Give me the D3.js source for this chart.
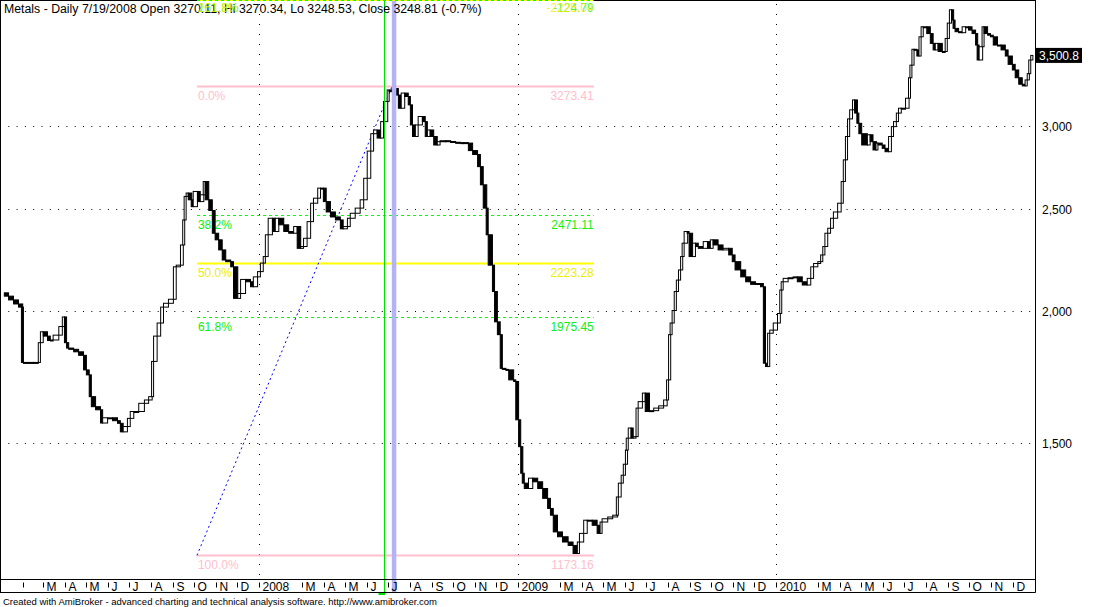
<!DOCTYPE html>
<html><head><meta charset="utf-8">
<script src="https://cdn.jsdelivr.net/npm/d3@7"></script>
<style>
body{margin:0;background:#fff}
svg{display:block}
text{font-family:"Liberation Sans",Arial,sans-serif}
</style>
</head><body>
<svg id="chart" width="1096" height="607"></svg>
<script>
// ---- data (days counted from 2007-01-01) ----
const days2007=[4,10,17,24,30,31,38,45,52,55,59,65,69,73,81,86,89,92,95,102,109,116,120,124,127,133,140,143,150,157,164,168,172,178,182,187,194,202,208,213,215,220,225,229,236,243,247,253,257,259,261,264,269,271,277,281,286,288,293,298,302,307,312,317,324,328,334,338,345,352,356,362,366,370];
const close2007=[2083,2068,2051,2033,2019,1789,1789,1789,1789,1868,1913,1895,1877,1879,1899,1935,1976,1868,1846,1841,1831,1817,1760,1741,1660,1624,1613,1567,1585,1585,1575,1566,1537,1555,1583,1607,1607,1636,1648,1660,1793,1895,1950,2019,2036,2054,2205,2213,2313,2443,2572,2591,2553,2515,2600,2543,2581,2657,2553,2494,2373,2339,2288,2238,2230,2205,2058,2080,2145,2134,2111,2157,2182,2223];
const days2008=[373,377,383,387,392,399,406,413,418,423,427,432,437,441,447,451,455,459,465,472,479,483,489,493,500,507,512,517,522,526,531,536,540,546,548,553,555,561,565,570,575,578,581,585,589,595,599,602,606,611,616,620,628,635,642,649,653,660,666,673,677,681,686,688,694,697,701,705,708,713,717,724,727];
const close2008=[2255,2365,2452,2382,2452,2417,2382,2373,2408,2296,2305,2347,2434,2534,2562,2619,2619,2543,2486,2459,2443,2396,2408,2452,2479,2507,2553,2676,2840,2950,2974,2922,3029,3166,3246,3234,3256,3210,3119,3224,3200,3142,3007,2932,3007,3063,3029,2932,2974,2932,2878,2899,2905,2900,2895,2890,2893,2890,2843,2819,2745,2638,2507,2365,2213,2089,1955,1901,1766,1762,1760,1722,1716];
const days2009=[731,734,737,739,745,751,758,765,772,776,780,786,793,801,808,814,817,823,828,835,842,847,849,857,864,871,872,876,879,882,885,886,890,893,897,900,906,910,916,922,929,936,941,943,946,948,951,954,957,960,963,965,970,972,977,981,985,992,998,1002,1006,1013,1020,1028,1033,1037,1045,1052,1059,1066,1073,1077,1080,1083,1086,1091];
const close2009=[1578,1488,1404,1374,1358,1389,1378,1358,1329,1300,1281,1235,1222,1208,1199,1178,1208,1231,1267,1267,1253,1231,1262,1271,1276,1281,1333,1374,1398,1432,1477,1516,1550,1516,1521,1619,1642,1673,1607,1610,1619,1627,1648,1722,1901,1950,2004,2089,2142,2190,2255,2322,2382,2373,2255,2322,2305,2296,2330,2296,2339,2313,2288,2296,2263,2230,2190,2157,2134,2122,2126,2111,1786,1773,1907,1920];
const days2010=[1097,1101,1103,1105,1112,1119,1125,1132,1139,1144,1148,1154,1158,1161,1164,1168,1172,1176,1182,1187,1190,1193,1196,1199,1203,1206,1210,1212,1216,1224,1228,1232,1237,1239,1245,1249,1254,1258,1261,1265,1268,1272,1278,1283,1285,1287,1290,1294,1297,1300,1303,1308,1313,1317,1320,1324,1330,1334,1337,1340,1343,1346,1348,1353,1358,1363,1367,1372,1377,1380,1382,1387,1389,1394,1398,1402,1408,1413,1419,1423,1429,1433,1438,1443,1447,1450,1453,1455,1458];
const close2010=[1950,1991,2096,2134,2150,2153,2157,2134,2119,2150,2205,2221,2230,2263,2305,2373,2399,2452,2486,2534,2657,2786,2932,3047,3108,3176,3086,3018,2950,2878,2943,2899,2847,2890,2878,2857,2836,2932,2996,3029,3086,3119,3119,3188,3334,3427,3548,3543,3496,3646,3727,3727,3672,3594,3543,3594,3531,3531,3633,3757,3868,3782,3714,3687,3679,3727,3727,3700,3672,3581,3466,3568,3727,3672,3659,3646,3581,3581,3543,3496,3433,3391,3334,3287,3275,3318,3364,3466,3500.8];

const priceTicks=[1500,2000,2500,3000];
const yearStarts=["2008-01-01","2009-01-01","2010-01-01"];
const monthLetters=["J","F","M","A","M","J","J","A","S","O","N","D"];

const fibPct=["0.0%","38.2%","50.0%","61.8%","100.0%"];
const fibVal=[3273.41,2471.11,2223.28,1975.45,1173.16];
const fibStyle=["pink","green","yellow","green","pink"];
// extension levels whose values are negative (cannot be placed on the log axis -> pinned to the top edge)
const extPct=["161.8%","261.8%"];
const extVal=[-124.79,-2225.04];
const extStyle=["green","yellow"];
const fibStart="2007-10-05", fibEnd="2009-04-18", fibHighDate="2008-07-07";

const titleText="Metals - Daily 7/19/2008 Open 3270.11, Hi 3270.34, Lo 3248.53, Close 3248.81 (-0.7%)";
const creditText="Created with AmiBroker - advanced charting and technical analysis software. http://www.amibroker.com";
const lastValue=3500.8, lastLabel="3,500.8";
const markerDate="2008-06-26", selectedDate="2008-07-10";

// ---- setup ----
const W=1096,H=607, plotR=1035, plotB=579.5, axisB=592.5;
const svg=d3.select("#chart");
svg.append("rect").attr("width",W).attr("height",H).attr("fill","#fff");
const T0=new Date(Date.UTC(2007,0,1));
const pd=s=>new Date(s+"T00:00:00Z");
const x=d3.scaleUtc().domain([T0,new Date(Date.UTC(2011,0,1))]).range([1,1034.5]);
const y=d3.scaleLog().domain([1116.6,3951.7]).range([578,0]);

const series=[].concat(
  days2007.map((d,i)=>({d,c:close2007[i]})),
  days2008.map((d,i)=>({d,c:close2008[i]})),
  days2009.map((d,i)=>({d,c:close2009[i]})),
  days2010.map((d,i)=>({d,c:close2010[i]}))
).map(p=>({date:d3.utcDay.offset(T0,p.d),c:p.c}));

svg.append("clipPath").attr("id","clip").append("rect").attr("x",0).attr("y",0).attr("width",plotR).attr("height",plotB);
const plot=svg.append("g").attr("clip-path","url(#clip)");

// grid
plot.selectAll(".hg").data(priceTicks).join("line")
  .attr("x1",0).attr("x2",plotR).attr("y1",d=>Math.round(y(d))+0.5).attr("y2",d=>Math.round(y(d))+0.5)
  .attr("stroke","#000").attr("stroke-dasharray","1,7.3");
plot.selectAll(".vg").data(yearStarts).join("line")
  .attr("x1",d=>Math.round(x(pd(d)))+0.5).attr("x2",d=>Math.round(x(pd(d)))+0.5).attr("y1",4).attr("y2",plotB)
  .attr("stroke","#000").attr("stroke-dasharray","1,9");

// selected bar band and marker line
const bandX=x(pd(selectedDate));
svg.append("rect").attr("x",bandX-2.5).attr("y",0).attr("width",4.5).attr("height",axisB).attr("fill","#b3b3f7");
const mX=Math.round(x(pd(markerDate)))+0.5;
svg.append("line").attr("x1",mX).attr("x2",mX).attr("y1",0).attr("y2",595).attr("stroke","#00e000").attr("stroke-width",1);
svg.append("rect").attr("x",mX-6).attr("y",592).attr("width",6).attr("height",3).attr("fill","#00e000");

// fib levels
const colorMap={pink:"#ffc0cb",green:"#00ff00",yellow:"#ffff00"};
const textColor={pink:"#ffc0cb",green:"#11ee11",yellow:"#eeee00"};
const fx0=x(pd(fibStart)), fx1=x(pd(fibEnd));
fibVal.forEach((v,i)=>{
  const st=fibStyle[i], yy=Math.round(y(v))+0.5;
  const ln=plot.append("line").attr("x1",fx0).attr("x2",fx1).attr("y1",yy).attr("y2",yy)
    .attr("stroke",colorMap[st]).attr("stroke-width",st==="pink"?2:(st==="yellow"?2:1));
  if(st==="green") ln.attr("stroke-dasharray","3,3");
  plot.append("text").attr("x",fx0+1).attr("y",yy+13).attr("font-size",12).attr("fill",textColor[st]).text(fibPct[i]);
  plot.append("text").attr("x",fx1).attr("y",yy+13).attr("text-anchor","end").attr("font-size",12).attr("fill",textColor[st]).text(v.toFixed(2));
});
// trend line of fib anchors
plot.append("line").attr("x1",fx0).attr("y1",y(fibVal[4])).attr("x2",x(pd(fibHighDate))).attr("y2",y(fibVal[0]))
  .attr("stroke","#0000ff").attr("stroke-width",1).attr("stroke-dasharray","2,3");

// candles (open = previous close)
const cg=plot.append("g");
series.forEach((p,i)=>{
  if(i===0) return;
  const o=series[i-1].c, c=p.c;
  const x0=x(series[i-1].date), x1=x(p.date);
  const w=Math.max(2,x1-x0);
  const yt=y(Math.max(o,c)), yb=y(Math.min(o,c));
  cg.append("rect").attr("x",x1-w+0.5).attr("y",yt).attr("width",w).attr("height",Math.max(1,yb-yt))
    .attr("fill",c>=o?"#fff":"#000").attr("stroke","#000").attr("stroke-width",1);
});

// frame
svg.append("line").attr("x1",0.5).attr("x2",0.5).attr("y1",0).attr("y2",axisB).attr("stroke","#000");
svg.append("line").attr("x1",plotR+0.5).attr("x2",plotR+0.5).attr("y1",0).attr("y2",axisB).attr("stroke","#000");
svg.append("line").attr("x1",0).attr("x2",plotR+0.5).attr("y1",plotB).attr("y2",plotB).attr("stroke","#000");
svg.append("line").attr("x1",0).attr("x2",plotR+0.5).attr("y1",axisB).attr("y2",axisB).attr("stroke","#000");
svg.append("line").attr("x1",0).attr("x2",plotR+0.5).attr("y1",0.5).attr("y2",0.5).attr("stroke","#000");

// title
svg.append("text").attr("x",4).attr("y",13).attr("font-size",12.3).attr("fill","#000").text(titleText);

// extension levels pinned at top edge (drawn over title like the original)
extVal.forEach((v,i)=>{
  const st=extStyle[i];
  const ln=svg.append("line").attr("x1",fx0).attr("x2",fx1).attr("y1",0.5).attr("y2",0.5)
    .attr("stroke",colorMap[st]).attr("stroke-width",1).attr("stroke-dasharray","3,3").attr("stroke-dashoffset",i*3);
  svg.append("text").attr("x",fx0+1).attr("y",12).attr("font-size",12).attr("fill",textColor[st]).attr("fill-opacity",0.8).text(extPct[i]);
  svg.append("text").attr("x",fx1).attr("y",12).attr("text-anchor","end").attr("font-size",12).attr("fill",textColor[st]).attr("fill-opacity",0.8).text(v.toFixed(2));
});

// x axis months
const months=d3.utcMonth.range(new Date(Date.UTC(2007,1,1)),new Date(Date.UTC(2011,0,1)));
const ag=svg.append("g");
months.forEach(m=>{
  const mo=m.getUTCMonth(), yr=m.getUTCFullYear();
  if(mo===1 && yr>2007) return;
  const tx=Math.round(x(m))+0.5;
  ag.append("line").attr("x1",tx).attr("x2",tx).attr("y1",plotB+3).attr("y2",plotB+8).attr("stroke","#000");
  if(mo===1 && yr===2007) return;
  ag.append("text").attr("x",tx+3).attr("y",axisB-1.5).attr("font-size",12).attr("fill","#000")
    .text(mo===0?String(yr):monthLetters[mo]);
});

// y axis labels
const fmt=d3.format(",");
svg.selectAll(".yl").data(priceTicks).join("text")
  .attr("x",1042).attr("y",d=>y(d)+4.5).attr("font-size",12).attr("fill","#000").text(d=>fmt(d));
// last value box
const ly=y(lastValue);
svg.append("rect").attr("x",1036).attr("y",ly-7.5).attr("width",46).attr("height",15).attr("fill","#000");
svg.append("text").attr("x",1039).attr("y",ly+4.5).attr("font-size",12).attr("fill","#fff").text(lastLabel);

// credit
svg.append("text").attr("x",3).attr("y",605).attr("font-size",9.5).attr("fill","#000").text(creditText);
</script>
</body></html>
